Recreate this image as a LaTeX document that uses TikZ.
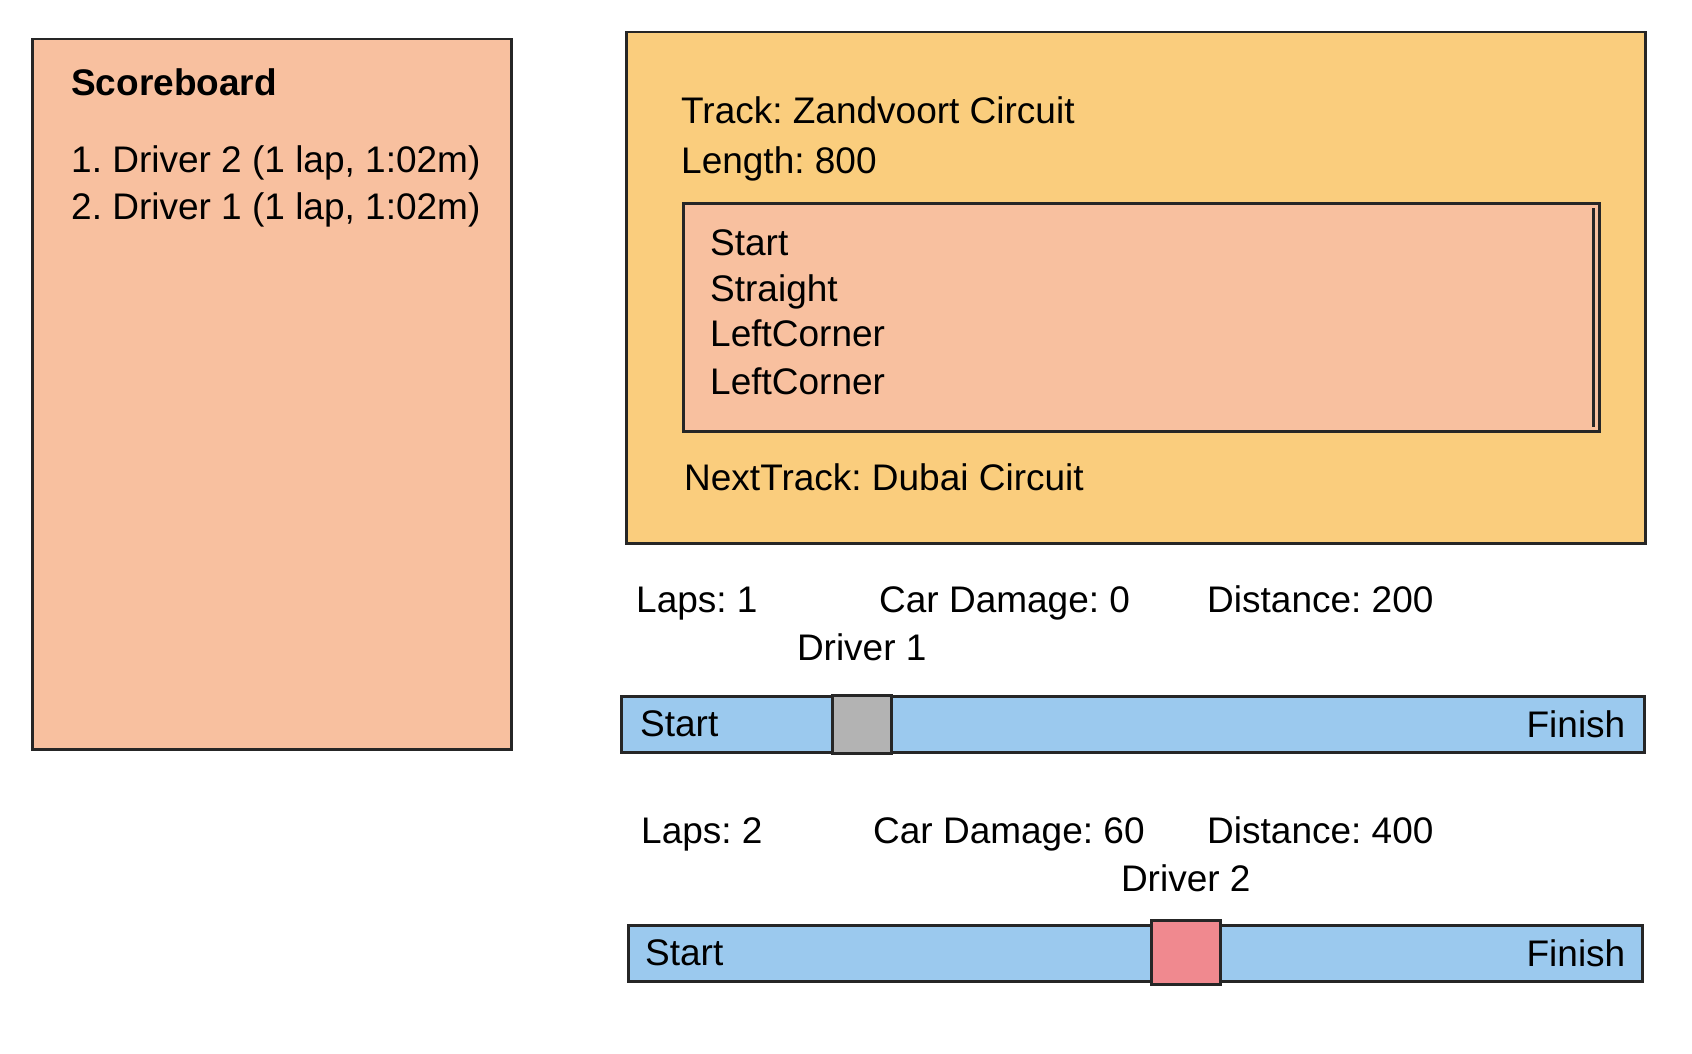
\documentclass[tikz,border=0pt]{standalone}
\usepackage{fontspec}
\setmainfont{Liberation Sans}
\usetikzlibrary{positioning}
\definecolor{edge}{HTML}{262626}
\definecolor{peach}{HTML}{F8C09F}
\definecolor{sand}{HTML}{FACD7D}
\definecolor{lane}{HTML}{9BC9EE}
\definecolor{carA}{HTML}{B3B3B3}
\definecolor{carB}{HTML}{F0898F}
\frenchspacing

\begin{document}
\begin{tikzpicture}[x=1pt,y=-1pt,
   panel/.style={draw=edge,line width=2.5pt,anchor=north west,inner sep=0pt},
   lbl/.style={anchor=base west,inner sep=0pt,font=\fontsize{37}{44}\selectfont},
   bar/.style={panel,fill=lane,minimum height=56pt},
   car/.style={panel,minimum height=60pt}]
   \useasboundingbox (0,0) rectangle (1692,1054);
   % scoreboard
   \node[panel,fill=peach,minimum width=479pt,minimum height=710pt] (score) at (31,38) {};
   \node[lbl,font=\fontsize{37}{44}\selectfont\bfseries] (title) at (71,96) {Scoreboard};
   \node[lbl,below=76pt of title.base west,anchor=base west] (rank1) {1. Driver 2 (1 lap, 1:02m)};
   \node[lbl,below=47pt of rank1.base west,anchor=base west] (rank2) {2. Driver 1 (1 lap, 1:02m)};
   % track
   \node[panel,fill=sand,minimum width=1019pt,minimum height=511pt] (track) at (625,31) {};
   \node[lbl] (name) at (681,124) {Track: Zandvoort Circuit};
   \node[lbl,below=50pt of name.base west,anchor=base west] (length) {Length: 800};
   \node[panel,fill=peach,minimum width=916pt,minimum height=228pt] (parts) at (682,202) {};
   \node[lbl] (p1) at (710,255) {Start};
   \node[lbl,below=46pt of p1.base west,anchor=base west] (p2) {Straight};
   \node[lbl,below=45pt of p2.base west,anchor=base west] (p3) {LeftCorner};
   \node[lbl,below=48pt of p3.base west,anchor=base west] (p4) {LeftCorner};
   \draw[edge,line width=3.5pt] ([xshift=-7pt,yshift=-6pt]parts.north east) -- ([xshift=-7pt,yshift=6pt]parts.south east);
   \node[lbl] (next) at (684,490) {NextTrack: Dubai Circuit};
   % driver 1
   \node[lbl] (laps1) at (636,612) {Laps: 1};
   \node[lbl] (dmg1) at (879,612) {Car Damage: 0};
   \node[lbl] (dist1) at (1207,612) {Distance: 200};
   \node[bar,minimum width=1023pt] (bar1) at (620,695) {};
   \node[car,fill=carA,minimum width=59pt,minimum height=58pt] (car1) at (831,694) {};
   \node[lbl,above=34pt of car1.north,anchor=base] (drv1) {Driver 1};
   \node[lbl,right=20pt of bar1.west] (start1) {Start};
   \node[lbl,left=20pt of bar1.east] (finish1) {Finish};
   % driver 2
   \node[lbl] (laps2) at (641,843) {Laps: 2};
   \node[lbl] (dmg2) at (873,843) {Car Damage: 60};
   \node[lbl] (dist2) at (1207,843) {Distance: 400};
   \node[bar,minimum width=1014pt] (bar2) at (627,924) {};
   \node[car,fill=carB,minimum width=69pt,minimum height=64pt] (car2) at (1150,919) {};
   \node[lbl,above=28pt of car2.north,anchor=base] (drv2) {Driver 2};
   \node[lbl,right=18pt of bar2.west] (start2) {Start};
   \node[lbl,left=18pt of bar2.east] (finish2) {Finish};
\end{tikzpicture}
\end{document}
